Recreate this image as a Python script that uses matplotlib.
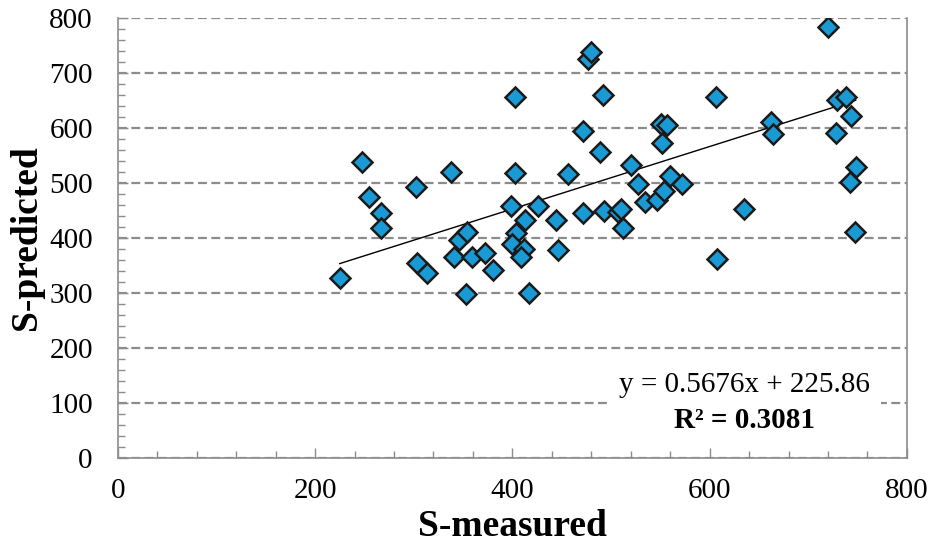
import numpy as np
import matplotlib.pyplot as plt
from matplotlib.ticker import MultipleLocator

# values
s_measured = [225, 248, 255, 267, 267, 302, 303, 313, 338, 341,
              346, 354, 353, 359, 372, 380, 399, 403, 403, 404,
              400, 412, 409, 413, 417, 426, 444, 446, 456, 472,
              472, 477, 480, 489, 492, 493, 507, 510, 512, 520,
              527, 534, 547, 554, 552, 551, 557, 560, 572, 606,
              607, 635, 662, 664, 720, 728, 729, 738, 743, 748,
              742, 747]
s_predicted = [327, 539, 474, 446, 418, 493, 355, 337, 520, 366,
               396, 411, 299, 365, 372, 342, 458, 657, 518, 409,
               389, 381, 365, 433, 300, 458, 433, 378, 516, 595,
               446, 725, 739, 556, 660, 449, 448, 452, 419, 533,
               498, 466, 470, 486, 572, 607, 605, 512, 499, 657,
               362, 452, 611, 590, 783, 591, 651, 656, 621, 530,
               502, 411]

slope = 0.5676
intercept = 225.86
r2 = 0.3081

plt.rcParams['font.family'] = ['Liberation Serif', 'DejaVu Serif']

fig = plt.figure(figsize=(9.35, 5.46), dpi=100)
ax = fig.add_axes([0.126, 0.161, 0.844, 0.806])

grey = '#8c8c8c'

ax.set_xlim(0, 800)
ax.set_ylim(0, 800)
ax.xaxis.set_major_locator(MultipleLocator(200))
ax.xaxis.set_minor_locator(MultipleLocator(40))
ax.yaxis.set_major_locator(MultipleLocator(100))
ax.yaxis.set_minor_locator(MultipleLocator(20))

ax.grid(axis='y', which='major', color=grey, linestyle=(0, (4, 2)), linewidth=1.6)
ax.set_axisbelow(True)

for side in ['left', 'bottom', 'right']:
    ax.spines[side].set_color(grey)
    ax.spines[side].set_linewidth(1.2)
ax.spines['top'].set_visible(False)

ax.tick_params(which='both', direction='in', color=grey, labelsize=21,
               labelcolor='black', right=False, top=False)
ax.tick_params(which='major', length=7, width=1)
ax.tick_params(which='minor', length=5, width=1)
ax.tick_params(axis='x', pad=14)
ax.tick_params(axis='y', pad=18)

# trend line over data range
xs = np.array([min(s_measured), max(s_measured)])
ax.plot(xs, slope * xs + intercept, color='black', linewidth=1, zorder=2)

ax.plot(s_measured, s_predicted, linestyle='none', marker='D', markersize=10.5,
        markerfacecolor='#1a9ad4', markeredgecolor='#1a1a1a', markeredgewidth=1.8,
        zorder=3)

ax.text(635, 132, f'y = {slope}x + {intercept}', ha='center', va='center', fontsize=21,
        bbox=dict(facecolor='white', edgecolor='none', pad=8), zorder=4)
ax.text(635, 69, f'R² = {r2}', ha='center', va='center', fontsize=21,
        fontweight='bold', zorder=5)

ax.set_xlabel('S-measured', fontsize=27, fontweight='bold', labelpad=4)
ax.set_ylabel('S-predicted', fontsize=27, fontweight='bold', labelpad=4)

fig.savefig('out.png', dpi=100)
